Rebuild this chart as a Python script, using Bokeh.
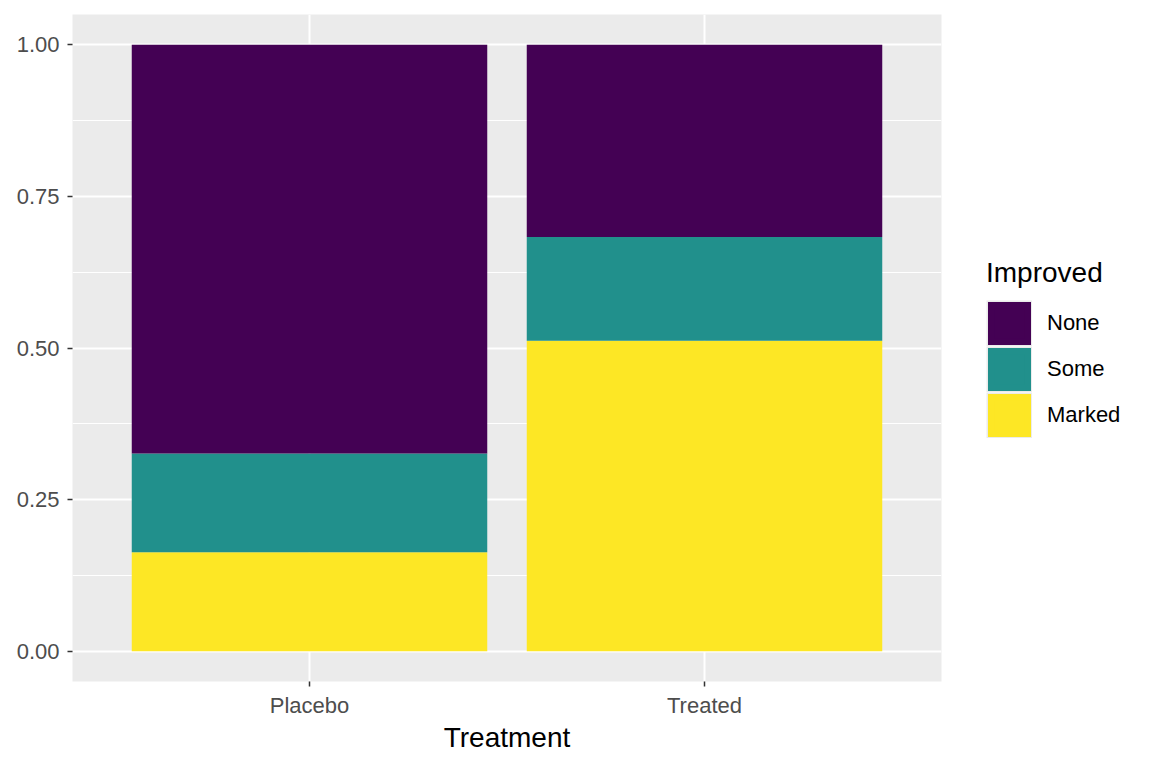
from bokeh.plotting import figure
from bokeh.models import ColumnDataSource, FixedTicker, Legend, LegendItem, Range1d
from bokeh.embed import file_html
from bokeh.resources import INLINE

treatments = ["Placebo", "Treated"]
x_pos = [1, 2]
marked = [0.163, 0.512]
some = [0.163, 0.171]
none = [0.674, 0.317]
levels = ["Marked", "Some", "None"]
colors = {"None": "#440154", "Some": "#21908C", "Marked": "#FDE725"}

src = ColumnDataSource(dict(x=x_pos, Marked=marked, Some=some))
src.data["None"] = none

FONT = "Liberation Sans"
p = figure(frame_width=869, frame_height=667, output_backend="svg", toolbar_location=None,
           x_range=Range1d(0.4, 2.6), y_range=Range1d(-0.05, 1.05),
           min_border_left=72, min_border_right=0, min_border_top=14, min_border_bottom=87)
p.background_fill_color = "#EBEBEB"
p.border_fill_color = "white"
p.outline_line_color = None

renderers = p.vbar_stack(levels, x="x", width=0.9, source=src,
                         color=[colors[l] for l in levels], line_color=None)

# legend proxies
dummy = ColumnDataSource(dict(x=[float("nan")], y=[float("nan")]))
items = []
for l in ["None", "Some", "Marked"]:
    r0 = p.rect(x="x", y="y", width=0.1, height=0.1, source=dummy,
                fill_color="#EBEBEB", line_color="#EBEBEB", line_width=9.2,
                line_join="miter")
    r1 = p.rect(x="x", y="y", width=0.1, height=0.1, source=dummy,
                fill_color=colors[l], line_color=colors[l], line_width=6.2,
                line_join="miter")
    items.append(LegendItem(label=l, renderers=[r0, r1]))

legend = Legend(items=items, location=(45, 243))
legend.title = "Improved"
legend.title_text_font = FONT
legend.title_text_font_size = "28px"
legend.title_text_font_style = "normal"
legend.title_text_color = "black"
legend.title_standoff = 11
legend.label_text_font = FONT
legend.label_text_font_size = "22px"
legend.label_text_color = "black"
legend.glyph_width = 46
legend.glyph_height = 46
legend.label_height = 46
legend.spacing = 0
legend.label_standoff = 15
legend.padding = 0
legend.margin = 0
legend.border_line_color = None
legend.background_fill_alpha = 0
p.add_layout(legend, "right")

p.xaxis.ticker = FixedTicker(ticks=x_pos)
p.xaxis.major_label_overrides = {1: treatments[0], 2: treatments[1]}
p.yaxis.ticker = FixedTicker(ticks=[0, 0.25, 0.5, 0.75, 1.0],
                             minor_ticks=[-0.125, 0.125, 0.375, 0.625, 0.875, 1.125])
p.yaxis.major_label_overrides = {0: "0.00", 0.25: "0.25", 0.5: "0.50", 0.75: "0.75", 1: "1.00"}
p.xaxis.axis_label = "Treatment"
p.xaxis.axis_label_text_font = FONT
p.xaxis.axis_label_text_font_size = "28px"
p.xaxis.axis_label_text_font_style = "normal"
p.xaxis.axis_label_text_color = "black"
p.xaxis.axis_label_standoff = 1
for ax in [p.xaxis, p.yaxis]:
    ax.axis_line_color = None
    ax.major_tick_line_color = "#333333"
    ax.major_tick_line_width = 1.5
    ax.major_tick_out = 5
    ax.major_tick_in = 0
    ax.minor_tick_line_color = None
    ax.major_label_text_font = FONT
    ax.major_label_text_font_size = "22px"
    ax.major_label_text_color = "#4D4D4D"
p.xaxis.major_label_standoff = 6
p.yaxis.major_label_standoff = 8

p.xgrid.grid_line_color = "white"
p.xgrid.grid_line_width = 2
p.ygrid.grid_line_color = "white"
p.ygrid.grid_line_width = 2
p.ygrid.minor_grid_line_color = "white"
p.ygrid.minor_grid_line_width = 1

open("out.html", "w").write(file_html(p, INLINE))
